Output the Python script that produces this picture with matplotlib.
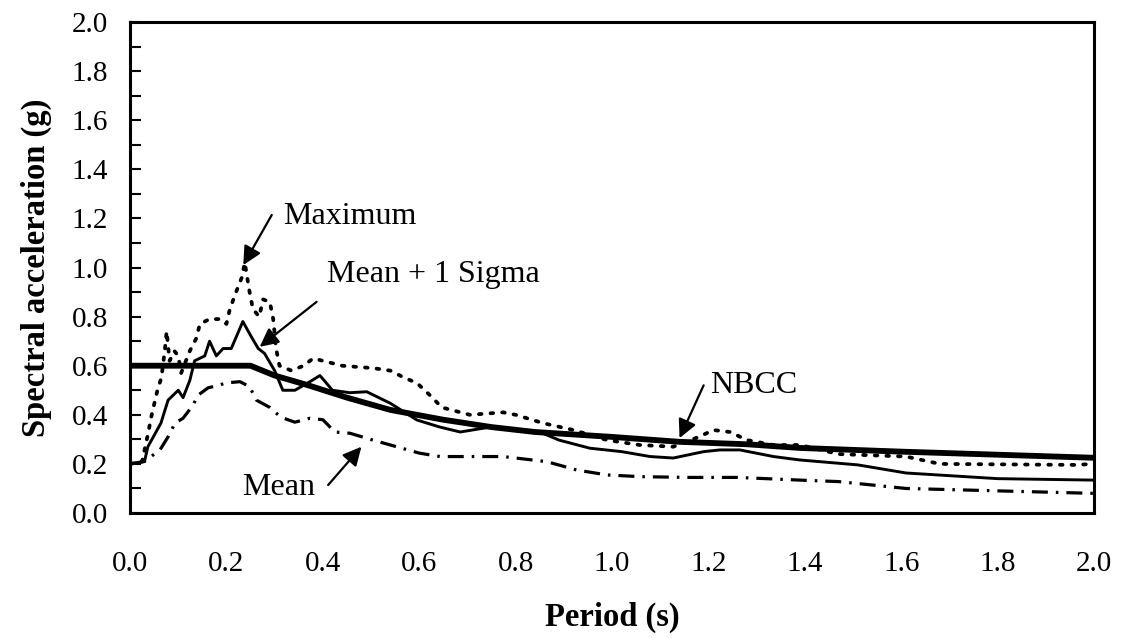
import matplotlib
matplotlib.use("Agg")
import matplotlib.pyplot as plt
from matplotlib.ticker import MultipleLocator

plt.rcParams['font.family'] = ['Liberation Serif', 'DejaVu Serif']

# Maximum spectrum (dotted)
max_period = [0, 0.025, 0.037, 0.045, 0.058, 0.065, 0.072, 0.076, 0.082, 0.092, 0.1, 0.106,
              0.124, 0.137, 0.145, 0.165, 0.186, 0.2, 0.207, 0.22, 0.232, 0.238, 0.248, 0.255,
              0.268, 0.276, 0.29, 0.297, 0.303, 0.31, 0.335, 0.36, 0.38, 0.44, 0.505, 0.54,
              0.57, 0.595, 0.622, 0.647, 0.705, 0.774, 0.8, 0.857, 0.92, 0.99, 1.058, 1.127,
              1.18, 1.21, 1.245, 1.28, 1.335, 1.39, 1.47, 1.61, 1.68, 1.96, 2.0]
max_sa = [0.2, 0.21, 0.32, 0.4, 0.51, 0.55, 0.66, 0.74, 0.62, 0.66, 0.64, 0.57,
          0.66, 0.71, 0.77, 0.79, 0.79, 0.77, 0.83, 0.9, 0.96, 1.02, 0.9, 0.83,
          0.8, 0.87, 0.86, 0.79, 0.67, 0.6, 0.58, 0.6, 0.63, 0.6, 0.59, 0.58,
          0.55, 0.53, 0.48, 0.43, 0.4, 0.41, 0.4, 0.366, 0.338, 0.297, 0.277, 0.27,
          0.31, 0.338, 0.33, 0.297, 0.277, 0.277, 0.24, 0.23, 0.2, 0.196, 0.2]

# Mean + 1 sigma (thin solid)
sig_period = [0, 0.03, 0.037, 0.064, 0.079, 0.1, 0.11, 0.124, 0.134, 0.155, 0.165, 0.179,
              0.193, 0.21, 0.234, 0.251, 0.266, 0.279, 0.3, 0.317, 0.342, 0.369, 0.394, 0.42,
              0.456, 0.491, 0.54, 0.595, 0.643, 0.685, 0.747, 0.8, 0.85, 0.89, 0.954, 1.02,
              1.079, 1.127, 1.19, 1.224, 1.265, 1.335, 1.39, 1.51, 1.61, 1.8, 2.0]
sig_sa = [0.2, 0.21, 0.27, 0.366, 0.46, 0.5, 0.47, 0.54, 0.62, 0.64, 0.7, 0.64,
          0.67, 0.67, 0.78, 0.72, 0.67, 0.65, 0.58, 0.5, 0.5, 0.53, 0.56, 0.5,
          0.49, 0.494, 0.447, 0.379, 0.35, 0.33, 0.35, 0.34, 0.33, 0.297, 0.264, 0.25,
          0.23, 0.224, 0.25, 0.257, 0.257, 0.23, 0.216, 0.196, 0.163, 0.14, 0.134]

# Mean (dash-dot)
mean_period = [0, 0.03, 0.062, 0.082, 0.093, 0.11, 0.131, 0.141, 0.162, 0.183, 0.2, 0.228,
               0.248, 0.262, 0.29, 0.313, 0.342, 0.373, 0.4, 0.425, 0.456, 0.504, 0.553, 0.6,
               0.643, 0.705, 0.774, 0.8, 0.865, 0.927, 0.99, 1.06, 1.16, 1.26, 1.39, 1.47,
               1.61, 2.0]
mean_sa = [0.2, 0.21, 0.257, 0.32, 0.366, 0.386, 0.44, 0.48, 0.51, 0.52, 0.53, 0.535,
           0.515, 0.46, 0.43, 0.39, 0.37, 0.386, 0.38, 0.33, 0.325, 0.297, 0.27, 0.244,
           0.23, 0.23, 0.23, 0.224, 0.209, 0.175, 0.155, 0.148, 0.145, 0.145, 0.134, 0.128,
           0.1, 0.08]

# NBCC design spectrum (thick)
nbcc_period = [0, 0.25, 0.3, 0.37, 0.45, 0.54, 0.65, 0.75, 0.84, 1.0, 1.14, 1.28, 1.39, 1.6, 2.0]
nbcc_sa = [0.6, 0.6, 0.56, 0.52, 0.47, 0.42, 0.38, 0.35, 0.33, 0.31, 0.29, 0.28, 0.265, 0.25, 0.225]

x_ticks = [0.0, 0.2, 0.4, 0.6, 0.8, 1.0, 1.2, 1.4, 1.6, 1.8, 2.0]
y_ticks = [0.0, 0.2, 0.4, 0.6, 0.8, 1.0, 1.2, 1.4, 1.6, 1.8, 2.0]

fig = plt.figure(figsize=(11.22, 6.38), dpi=100)
ax = fig.add_axes([0.1159, 0.1959, 0.8592, 0.7696])

ax.plot(max_period, max_sa, color='black', lw=2.7, linestyle=(0, (0.7, 2.4)),
        dash_capstyle='round')
ax.plot(mean_period, mean_sa, color='black', lw=2.3, linestyle=(0, (5, 2.5, 0.8, 2.5)))
ax.plot(sig_period, sig_sa, color='black', lw=2.1)
ax.plot(nbcc_period, nbcc_sa, color='black', lw=4.2, solid_capstyle='butt')

ax.set_xlim(0, 2.0)
ax.set_ylim(0, 2.0)
ax.set_xticks(x_ticks)
ax.set_xticklabels([f'{v:.1f}' for v in x_ticks])
ax.set_yticks(y_ticks)
ax.set_yticklabels([f'{v:.1f}' for v in y_ticks])
ax.yaxis.set_minor_locator(MultipleLocator(0.1))
ax.tick_params(axis='y', which='both', direction='in', length=8, width=1.5, labelsize=21, pad=16)
ax.tick_params(axis='x', which='both', length=0, labelsize=21, pad=27)
for s in ax.spines.values():
    s.set_linewidth(2.2)

ax.set_xlabel('Period (s)', fontsize=23.5, fontweight='bold', labelpad=18)
ax.set_ylabel('Spectral acceleration (g)', fontsize=23.5, fontweight='bold', labelpad=14)

arrow = dict(arrowstyle='-|>', color='black', lw=1.6, mutation_scale=28, shrinkA=0, shrinkB=0)
# labels and their arrows: (text, text position, arrow tail, arrow head, alignment)
ax.text(0.317, 1.206, 'Maximum', fontsize=23, va='center', ha='left')
ax.annotate('', xy=(0.235, 1.01), xytext=(0.294, 1.214), arrowprops=arrow)
ax.text(0.409, 0.97, 'Mean + 1 Sigma', fontsize=23, va='center', ha='left')
ax.annotate('', xy=(0.269, 0.677), xytext=(0.387, 0.86), arrowprops=arrow)
ax.text(1.203, 0.52, 'NBCC', fontsize=23, va='center', ha='left')
ax.annotate('', xy=(1.14, 0.305), xytext=(1.19, 0.52), arrowprops=arrow)
ax.text(0.384, 0.105, 'Mean', fontsize=23, va='center', ha='right')
ax.annotate('', xy=(0.48, 0.27), xytext=(0.411, 0.114), arrowprops=arrow)

fig.savefig('out.png', dpi=100)
